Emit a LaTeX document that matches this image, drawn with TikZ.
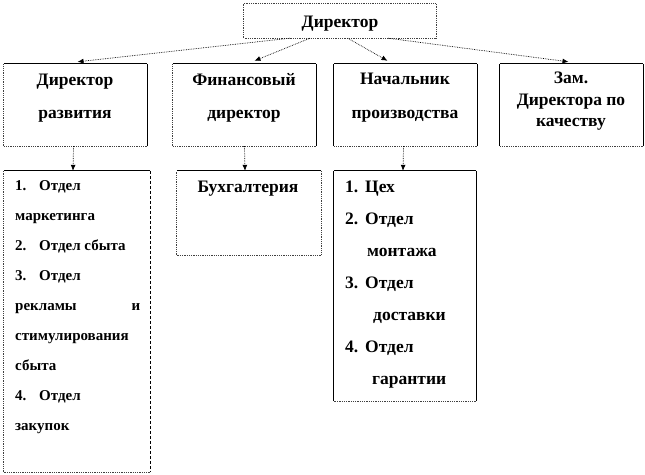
\documentclass[tikz,border=0pt]{standalone}
\usepackage{fontspec}
\setmainfont{Liberation Serif}[BoldFont={Liberation Serif Bold}]
\newfontfamily\tnr{Liberation Serif}[BoldFont={Liberation Serif Bold}]
\usetikzlibrary{arrows.meta,calc}
\newcommand\boxedges[5]{%
  \draw[#2] (#1.north west) -- (#1.north east);
  \draw[#3] (#1.north east) -- (#1.south east);
  \draw[#4] (#1.south east) -- (#1.south west);
  \draw[#5] (#1.south west) -- (#1.north west);}
\tikzset{
  frame/.style={draw=none, rectangle, inner sep=0pt},
  se/.style={line width=0.8pt, black},
  de/.style={line width=0.8pt, black!75, densely dotted},
  dd/.style={line width=0.8pt, black, densely dashed},
  link/.style={line width=0.7pt, black, densely dotted, -{Latex[length=6pt,width=5pt]}},
  big/.style={font=\tnr\bfseries\fontsize{17.5}{20}\selectfont, inner sep=0pt},
  small/.style={font=\tnr\bfseries\fontsize{15}{18}\selectfont, inner sep=0pt},
}
\begin{document}
\begin{tikzpicture}[x=1pt,y=-1pt]
\useasboundingbox (0,0) rectangle (645,474);
\fill[white] (0,0) rectangle (645,474);
% boxes
\node[frame, minimum width=192pt, minimum height=34pt] (dir) at (340,21) {};
\node[frame, minimum width=143pt, minimum height=82pt] (b1) at (75.5,105) {};
\node[frame, minimum width=143pt, minimum height=82pt] (b2) at (244.5,105) {};
\node[frame, minimum width=143pt, minimum height=82pt] (b3) at (405.5,105) {};
\node[frame, minimum width=143pt, minimum height=82pt] (b4) at (571.5,105) {};
\node[frame, minimum width=146pt, minimum height=301pt] (l1) at (77,321.5) {};
\node[frame, minimum width=144pt, minimum height=84pt] (l2) at (249,213) {};
\node[frame, minimum width=142pt, minimum height=230pt] (l3) at (405,286) {};
\boxedges{dir}{de}{de}{de}{de}
\boxedges{b1}{se}{se}{de}{de}
\boxedges{b2}{se}{se}{de}{de}
\boxedges{b3}{se}{se}{de}{se}
\boxedges{b4}{se}{se}{de}{se}
\boxedges{l1}{se}{dd}{de}{de}
\boxedges{l2}{se}{de}{de}{de}
\boxedges{l3}{se}{se}{de}{se}
% connectors
\coordinate (o1) at ($(dir.south west)!0.24!(dir.south east)$);
\coordinate (o2) at ($(dir.south west)!0.344!(dir.south east)$);
\coordinate (o3) at ($(dir.south west)!0.54!(dir.south east)$);
\coordinate (o4) at ($(dir.south west)!0.75!(dir.south east)$);
\draw[link] (o1) -- ($(b1.north)+(2,-2)$);
\draw[link] (o2) -- ($(b2.north)+(10,-3)$);
\draw[link] (o3) -- ($(b3.north)+(-18,-3)$);
\draw[link] (o4) -- ($(b4.north)+(-3,-2)$);
\draw[link] ($(b1.south)+(-2,0)$) -- ($(l1.north)+(-4,0)$);
\draw[link] (b2.south) -- ($(l2.north)+(-4,0)$);
\draw[link] ($(b3.south)+(-2,0)$) -- ($(l3.north)+(-2,0)$);
% texts
\node[big, anchor=base] (tdir) at (340,27) {Директор};
\node[big, anchor=base] (t1a) at (75,85) {Директор};
\node[big, anchor=base] (t1b) at (75,118) {развития};
\node[big, anchor=base] (t2a) at (244,85) {Финансовый};
\node[big, anchor=base] (t2b) at (244,118) {директор};
\node[big, anchor=base] (t3a) at (405,84) {Начальник};
\node[big, anchor=base] (t3b) at (405,118) {производства};
\node[big, anchor=base] (t4a) at (571,83) {Зам.};
\node[big, anchor=base] (t4b) at (571,105) {Директора по};
\node[big, anchor=base] (t4c) at (571,126) {качеству};
\node[big, anchor=base] (tl2) at (248,192) {Бухгалтерия};
% list 1
\node[small, anchor=base west] (u1) at (15,190) {\makebox[24pt][l]{1.}Отдел};
\node[small, anchor=base west] (u2) at (15,220) {маркетинга};
\node[small, anchor=base west] (u3) at (15,250) {\makebox[24pt][l]{2.}Отдел сбыта};
\node[small, anchor=base west] (u4) at (15,280) {\makebox[24pt][l]{3.}Отдел};
\node[small, anchor=base west, text width=125pt] (u5) at (15,310) {рекламы\hfill и};
\node[small, anchor=base west] (u6) at (15,340) {стимулирования};
\node[small, anchor=base west] (u7) at (15,370) {сбыта};
\node[small, anchor=base west] (u8) at (15,400) {\makebox[24pt][l]{4.}Отдел};
\node[small, anchor=base west] (u9) at (15,430) {закупок};
% list 3
\node[big, anchor=base west] (v1) at (345,192) {\makebox[20pt][l]{1.}Цех};
\node[big, anchor=base west] (v2) at (345,224) {\makebox[20pt][l]{2.}Отдел};
\node[big, anchor=base west] (v3) at (367,256) {монтажа};
\node[big, anchor=base west] (v4) at (345,288) {\makebox[20pt][l]{3.}Отдел};
\node[big, anchor=base west] (v5) at (373,320) {доставки};
\node[big, anchor=base west] (v6) at (345,352) {\makebox[20pt][l]{4.}Отдел};
\node[big, anchor=base west] (v7) at (372,384) {гарантии};
\end{tikzpicture}
\end{document}
